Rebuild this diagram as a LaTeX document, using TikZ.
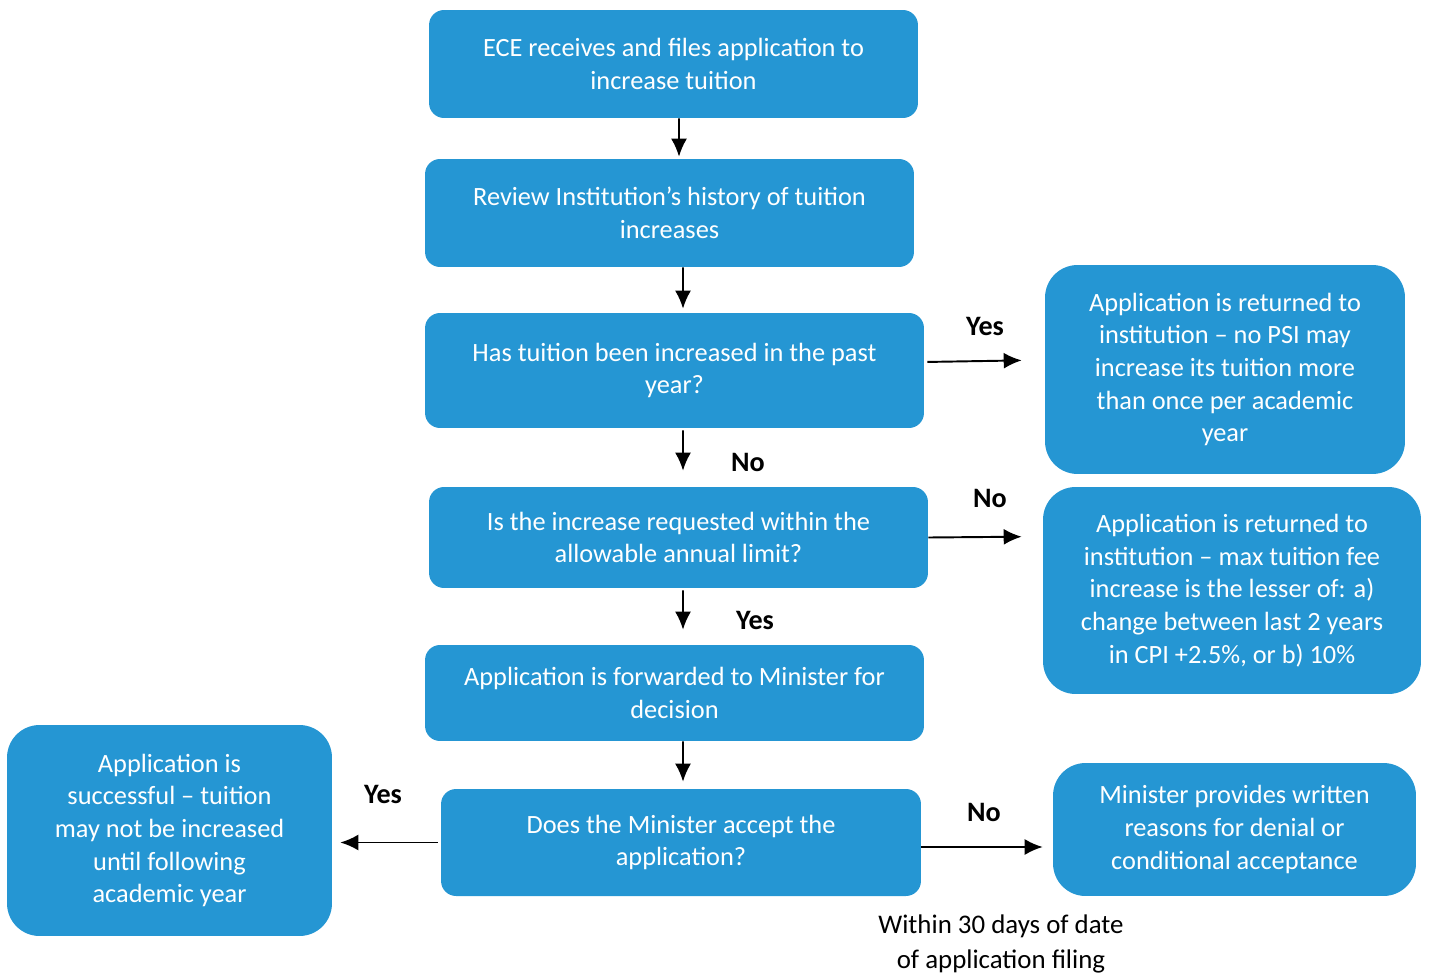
\documentclass[tikz,border=0pt]{standalone}
\usepackage{fontspec}
\setmainfont{Carlito}
\usepackage{tikz}
\usetikzlibrary{arrows.meta}
\definecolor{flowblue}{RGB}{37,150,211}

\begin{document}
\begin{tikzpicture}[x=0.02cm,y=-0.02cm,
		stage/.style={fill=flowblue,text=white,align=center,inner sep=0pt,rounded corners=0.3cm,font=\fontsize{15}{18.6}\selectfont},
		outcome/.style={stage,rounded corners=0.65cm},
		arr/.style={-{Latex[length=0.36cm,width=0.32cm]},line width=1.1pt},
		answer/.style={font=\fontsize{16}{19}\selectfont\bfseries}]
					\useasboundingbox (0,0) rectangle (1429,973);
					% main column
					\node[stage,minimum width=9.78cm,minimum height=2.16cm] (ece) at (673.5,64) {ECE receives and files application to\\increase tuition};
					\node[stage,minimum width=9.78cm,minimum height=2.16cm] (review) at (669.5,213) {Review Institution’s history of tuition\\increases};
					\node[stage,minimum width=9.98cm,minimum height=2.30cm] (past) at (674.5,370.5) {Has tuition been increased in the past\\year?};
					\node[stage,minimum width=9.98cm,minimum height=2.02cm] (limit) at (678.5,537.5) {Is the increase requested within the\\allowable annual limit?};
					\node[stage,minimum width=9.98cm,minimum height=1.92cm] (forward) at (674.5,693) {Application is forwarded to Minister for\\decision};
					\node[stage,minimum width=9.60cm,minimum height=2.14cm] (accept) at (681,842.5) {Does the Minister accept the\\application?};
					% outcomes
					\node[outcome,minimum width=7.20cm,minimum height=4.18cm] (once) at (1225,369.5) {Application is returned to\\institution -- no PSI may\\increase its tuition more\\than once per academic\\year};
					\node[outcome,minimum width=7.56cm,minimum height=4.14cm] (maxfee) at (1232,590.5) {Application is returned to\\institution -- max tuition fee\\increase is the lesser of: a)\\change between last 2 years\\in CPI +2.5\%, or b) 10\%};
					\node[outcome,minimum width=7.26cm,minimum height=2.66cm] (reasons) at (1234.5,829.5) {Minister provides written\\reasons for denial or\\conditional acceptance};
					\node[outcome,minimum width=6.50cm,minimum height=4.22cm] (success) at (169.5,830.5) {Application is\\successful -- tuition\\may not be increased\\until following\\academic year};
					\draw[arr,shorten >=0.04cm] ([xshift=0.11cm]ece.south) -- ([xshift=0.19cm]review.north);
					\draw[arr,shorten >=0.08cm] ([xshift=0.27cm]review.south) -- ([xshift=0.17cm]past.north);
					\draw[arr,shorten <=0.04cm,shorten >=0.32cm] ([xshift=0.17cm]past.south) -- ([xshift=0.09cm]limit.north);
					\draw[arr,shorten <=0.04cm,shorten >=0.3cm] ([xshift=0.09cm]limit.south) -- ([xshift=0.17cm]forward.north);
					\draw[arr,shorten >=0.14cm] ([xshift=0.17cm]forward.south) -- ([xshift=0.04cm]accept.north);
					\draw[arr,shorten <=0.06cm,shorten >=0.46cm] ([yshift=0.17cm]past.east) -- ([yshift=0.19cm]once.west);
					\draw[arr,shorten >=0.42cm] (limit.east) -- ([yshift=1.08cm]maxfee.west);
					\coordinate (accept-out) at ([yshift=-0.09cm]accept.east);
					\draw[arr,shorten >=0.2cm] (accept-out) -- (accept-out -| reasons.west);
					\draw[arr,shorten <=0.06cm,shorten >=0.16cm] (accept.west) -- (accept.west -| success.east);
					% answers
					\node[answer] (pastyes) at (985,326) {Yes};
					\node[answer] (pastno) at (748,462) {No};
					\node[answer] (limitno) at (990,498) {No};
					\node[answer] (limityes) at (755,620) {Yes};
					\node[answer] (acceptyes) at (383,794) {Yes};
					\node[answer] (acceptno) at (984,812) {No};
					\node[align=center,font=\fontsize{15.3}{19.8}\selectfont] (deadline) at (1001,944) {Within 30 days of date\\of application filing};
				\end{tikzpicture}
\end{document}
